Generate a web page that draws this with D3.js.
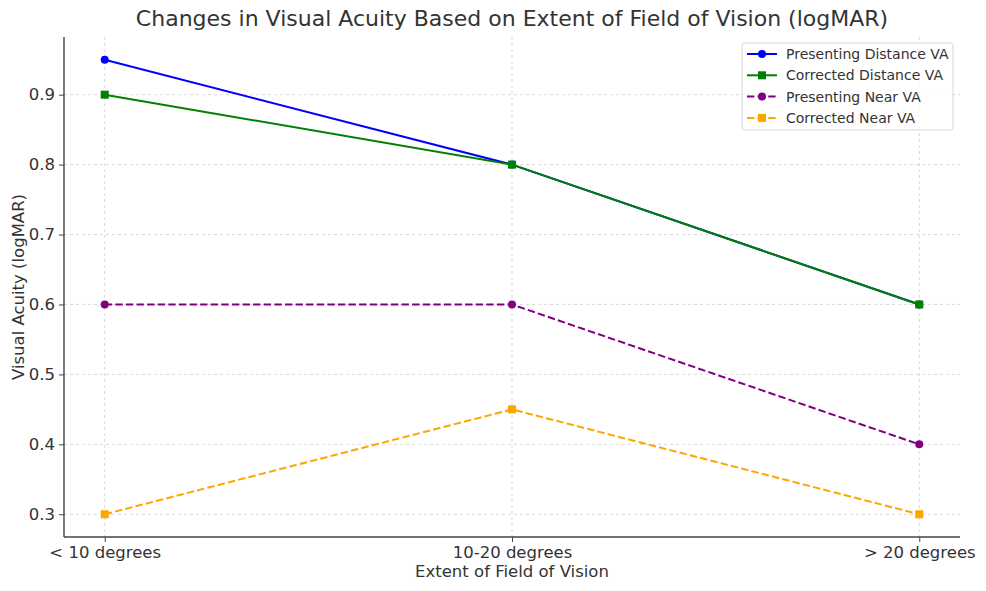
<!DOCTYPE html>
<html lang="en">
<head>
    <meta charset="UTF-8">
    <title>Visual Acuity</title>
    <style type="text/css">
        * {
            margin: 0;
            padding: 0;
        }

        body {
            background: #fff;
        }

        #chart-area {
            width: 986px;
            height: 591px;
        }
    </style>
</head>
<body>
<div id="chart-area"></div>
<script src="https://cdn.jsdelivr.net/npm/d3@7"></script>
<script type="text/javascript">

  const categories = ['< 10 degrees', '10-20 degrees', '> 20 degrees']
  const presentingDistance = [0.95, 0.8, 0.6]
  const correctedDistance = [0.9, 0.8, 0.6]
  const presentingNear = [0.6, 0.6, 0.4]
  const correctedNear = [0.3, 0.45, 0.3]
  const yTicks = [0.3, 0.4, 0.5, 0.6, 0.7, 0.8, 0.9]

  const series = [
    {name: 'Presenting Distance VA', values: presentingDistance, color: '#0000ff', marker: 'circle', dash: null},
    {name: 'Corrected Distance VA', values: correctedDistance, color: '#008000', marker: 'square', dash: null},
    {name: 'Presenting Near VA', values: presentingNear, color: '#800080', marker: 'circle', dash: '7.4,3.2'},
    {name: 'Corrected Near VA', values: correctedNear, color: '#ffa500', marker: 'square', dash: '7.4,3.2'}
  ]

  const W = 986, H = 591
  const margin = {left: 64, right: 26, top: 37, bottom: 54}
  const textColor = '#333'
  const font = '"DejaVu Sans", sans-serif'

  const svg = d3.select('#chart-area').append('svg')
      .attr('width', W)
      .attr('height', H)
      .style('font-family', font)

  const x = d3.scaleLinear()
      .domain([-0.1, 2.1])
      .range([margin.left, W - margin.right])

  const y = d3.scaleLinear()
      .domain([0.2675, 0.9825])
      .range([H - margin.bottom, margin.top])

  // grid
  const grid = svg.append('g')
  grid.selectAll('.gx')
      .data(categories)
      .enter()
      .append('line')
      .attr('x1', (d, i) => x(i))
      .attr('x2', (d, i) => x(i))
      .attr('y1', margin.top)
      .attr('y2', H - margin.bottom)
      .attr('stroke', '#cfcfcf')
      .attr('stroke-width', 0.8)
      .attr('stroke-dasharray', '3,3')
  grid.selectAll('.gy')
      .data(yTicks)
      .enter()
      .append('line')
      .attr('x1', margin.left)
      .attr('x2', W - margin.right)
      .attr('y1', d => y(d))
      .attr('y2', d => y(d))
      .attr('stroke', '#cfcfcf')
      .attr('stroke-width', 0.8)
      .attr('stroke-dasharray', '3,3')

  // axes
  const xAxis = svg.append('g')
      .attr('transform', `translate(0, ${H - margin.bottom})`)
      .call(d3.axisBottom(x).tickValues([0, 1, 2]).tickFormat(i => categories[i]).tickSize(5).tickPadding(4))
  const yAxis = svg.append('g')
      .attr('transform', `translate(${margin.left}, 0)`)
      .call(d3.axisLeft(y).tickValues(yTicks).tickFormat(d3.format('.1f')).tickSize(5).tickPadding(4))

  ;[xAxis, yAxis].forEach(a => {
    a.select('.domain').attr('stroke', '#444').attr('stroke-width', 1.4)
    a.selectAll('.tick line').attr('stroke', '#444').attr('stroke-width', 1)
    a.selectAll('.tick text').attr('fill', textColor).attr('font-size', '16.5px').attr('font-family', font)
  })
  // remove domain end caps
  xAxis.select('.domain').attr('d', `M${margin.left},0H${W - margin.right}`)
  yAxis.select('.domain').attr('d', `M0,${margin.top}V${H - margin.bottom}`)

  // lines
  const line = d3.line()
      .x((d, i) => x(i))
      .y(d => y(d))

  series.forEach(s => {
    const g = svg.append('g')
    g.append('path')
        .attr('d', line(s.values))
        .attr('fill', 'none')
        .attr('stroke', s.color)
        .attr('stroke-width', 2)
        .attr('stroke-dasharray', s.dash)
    drawMarkers(g, s, s.values.map((v, i) => [x(i), y(v)]))
  })

  function drawMarkers(g, s, pts) {
    if (s.marker === 'circle') {
      g.selectAll('circle')
          .data(pts)
          .enter()
          .append('circle')
          .attr('cx', d => d[0])
          .attr('cy', d => d[1])
          .attr('r', 4)
          .attr('fill', s.color)
    } else {
      g.selectAll('rect')
          .data(pts)
          .enter()
          .append('rect')
          .attr('x', d => d[0] - 4)
          .attr('y', d => d[1] - 4)
          .attr('width', 8)
          .attr('height', 8)
          .attr('fill', s.color)
    }
  }

  // title and labels
  svg.append('text')
      .attr('x', (margin.left + W - margin.right) / 2)
      .attr('y', 26)
      .attr('text-anchor', 'middle')
      .attr('fill', textColor)
      .attr('font-size', '22px')
      .text('Changes in Visual Acuity Based on Extent of Field of Vision (logMAR)')

  svg.append('text')
      .attr('x', (margin.left + W - margin.right) / 2)
      .attr('y', 577)
      .attr('text-anchor', 'middle')
      .attr('fill', textColor)
      .attr('font-size', '16.5px')
      .text('Extent of Field of Vision')

  svg.append('text')
      .attr('transform', `translate(24, ${(margin.top + H - margin.bottom) / 2}) rotate(-90)`)
      .attr('text-anchor', 'middle')
      .attr('fill', textColor)
      .attr('font-size', '16.5px')
      .text('Visual Acuity (logMAR)')

  // legend
  const lg = svg.append('g').attr('transform', 'translate(742, 43)')
  lg.append('rect')
      .attr('width', 211)
      .attr('height', 87)
      .attr('rx', 3)
      .attr('fill', 'rgba(255,255,255,0.8)')
      .attr('stroke', '#d6d6d6')

  series.forEach((s, i) => {
    const row = lg.append('g').attr('transform', `translate(0, ${11 + i * 21.3})`)
    row.append('line')
        .attr('x1', 5)
        .attr('x2', 35)
        .attr('stroke', s.color)
        .attr('stroke-width', 2)
        .attr('stroke-dasharray', s.dash)
    drawMarkers(row, s, [[20, 0]])
    row.append('text')
        .attr('x', 44)
        .attr('y', 0)
        .attr('dy', '0.35em')
        .attr('fill', textColor)
        .attr('font-size', '14px')
        .text(s.name)
  })

</script>
</body>
</html>
